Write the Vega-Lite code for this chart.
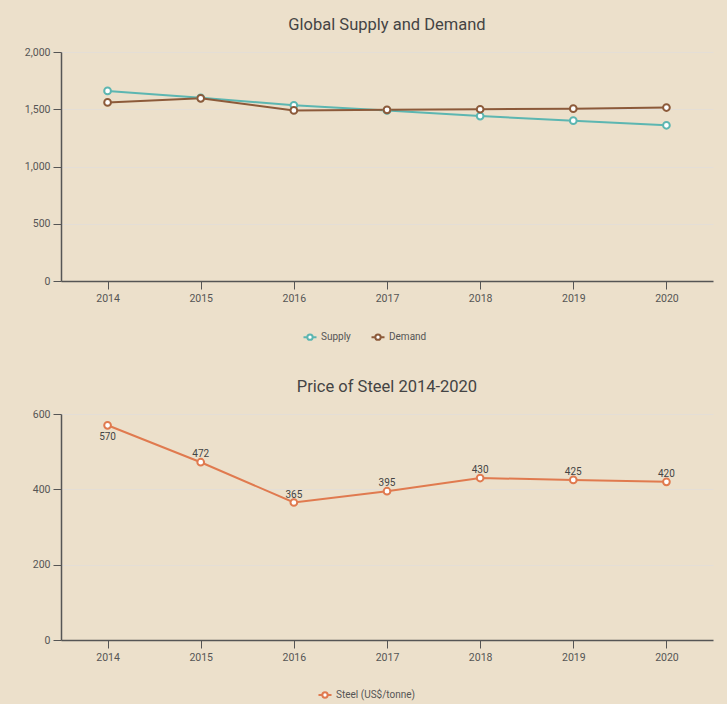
{
  "$schema": "https://vega.github.io/schema/vega-lite/v6.json",
  "background": "#ECE0CB",
  "padding": {"left": 24, "top": 16, "right": 14, "bottom": 10},
  "spacing": 34,
  "datasets": {
    "supplyDemand": [
      {"year": "2014", "series": "Supply", "value": 1660},
      {"year": "2015", "series": "Supply", "value": 1600},
      {"year": "2016", "series": "Supply", "value": 1535},
      {"year": "2017", "series": "Supply", "value": 1490},
      {"year": "2018", "series": "Supply", "value": 1440},
      {"year": "2019", "series": "Supply", "value": 1400},
      {"year": "2020", "series": "Supply", "value": 1360},
      {"year": "2014", "series": "Demand", "value": 1560},
      {"year": "2015", "series": "Demand", "value": 1595},
      {"year": "2016", "series": "Demand", "value": 1490},
      {"year": "2017", "series": "Demand", "value": 1495},
      {"year": "2018", "series": "Demand", "value": 1500},
      {"year": "2019", "series": "Demand", "value": 1505},
      {"year": "2020", "series": "Demand", "value": 1515}
    ],
    "steel": [
      {"year": "2014", "series": "Steel (US$/tonne)", "price": 570},
      {"year": "2015", "series": "Steel (US$/tonne)", "price": 472},
      {"year": "2016", "series": "Steel (US$/tonne)", "price": 365},
      {"year": "2017", "series": "Steel (US$/tonne)", "price": 395},
      {"year": "2018", "series": "Steel (US$/tonne)", "price": 430},
      {"year": "2019", "series": "Steel (US$/tonne)", "price": 425},
      {"year": "2020", "series": "Steel (US$/tonne)", "price": 420}
    ]
  },
  "config": {
    "font": "Roboto, sans-serif",
    "view": {"stroke": null},
    "title": {"fontSize": 16.5, "fontWeight": "normal", "color": "#444444", "offset": 14},
    "axis": {
      "labelColor": "#555555",
      "labelFontSize": 10.5,
      "domainColor": "#555555",
      "domainWidth": 1.5,
      "tickColor": "#555555",
      "tickSize": 8,
      "labelPadding": 3,
      "gridColor": "#E4DED6",
      "title": null
    },
    "legend": {
      "orient": "none",
      "direction": "horizontal",
      "labelFontSize": 10,
      "labelColor": "#555555",
      "title": null,
      "symbolType": "M-1.1,0L-0.45,0M0.45,0L1.1,0M-0.45,0A0.45,0.45 0 1,1 0.45,0A0.45,0.45 0 1,1 -0.45,0Z",
      "symbolSize": 140,
      "symbolStrokeWidth": 2,
      "symbolFillColor": "#ffffff",
      "columnPadding": 16
    }
  },
  "resolve": {"scale": {"color": "independent"}, "legend": {"color": "independent"}},
  "vconcat": [
    {
      "title": "Global Supply and Demand",
      "width": 652,
      "height": 229,
      "data": {"name": "supplyDemand"},
      "encoding": {
        "x": {
          "field": "year", "type": "ordinal",
          "scale": {"type": "point", "padding": 0.5},
          "axis": {"labelAngle": 0, "grid": false, "labelPadding": 4}
        },
        "y": {
          "field": "value", "type": "quantitative",
          "scale": {"domain": [0, 2000]},
          "axis": {"values": [0, 500, 1000, 1500, 2000], "format": ",d", "grid": true}
        }
      },
      "layer": [
        {"mark": {"type": "line", "strokeWidth": 2},
         "encoding": {"color": {
           "field": "series", "type": "nominal",
           "scale": {"domain": ["Supply", "Demand"], "range": ["#5CB6B1", "#8C5A3A"]},
           "legend": {"legendX": 242, "legendY": 278}
         }}},
        {"mark": {"type": "point", "filled": true, "fill": "#ffffff", "strokeWidth": 2, "size": 45, "opacity": 1},
         "encoding": {"stroke": {"field": "series", "type": "nominal", "scale": {"domain": ["Supply", "Demand"], "range": ["#5CB6B1", "#8C5A3A"]}, "legend": null}}}
      ]
    },
    {
      "title": "Price of Steel 2014-2020",
      "width": 652,
      "height": 226,
      "data": {"name": "steel"},
      "encoding": {
        "x": {
          "field": "year", "type": "ordinal",
          "scale": {"type": "point", "padding": 0.5},
          "axis": {"labelAngle": 0, "grid": false, "labelPadding": 4}
        },
        "y": {
          "field": "price", "type": "quantitative",
          "scale": {"domain": [0, 600]},
          "axis": {"values": [0, 200, 400, 600], "grid": true}
        }
      },
      "layer": [
        {"mark": {"type": "line", "strokeWidth": 2},
         "encoding": {"color": {"field": "series", "type": "nominal", "scale": {"range": ["#E07A4F"]},
           "legend": {"legendX": 257, "legendY": 274}}}},
        {"mark": {"type": "point", "filled": true, "fill": "#ffffff", "stroke": "#E07A4F", "strokeWidth": 2, "size": 45, "opacity": 1}},
        {"transform": [{"filter": "datum.year == '2014'"}],
         "mark": {"type": "text", "dy": 12, "fontSize": 10, "color": "#444444"},
         "encoding": {"text": {"field": "price", "type": "quantitative"}}},
        {"transform": [{"filter": "datum.year != '2014'"}],
         "mark": {"type": "text", "dy": -8, "fontSize": 10, "color": "#444444"},
         "encoding": {"text": {"field": "price", "type": "quantitative"}}}
      ]
    }
  ]
}
